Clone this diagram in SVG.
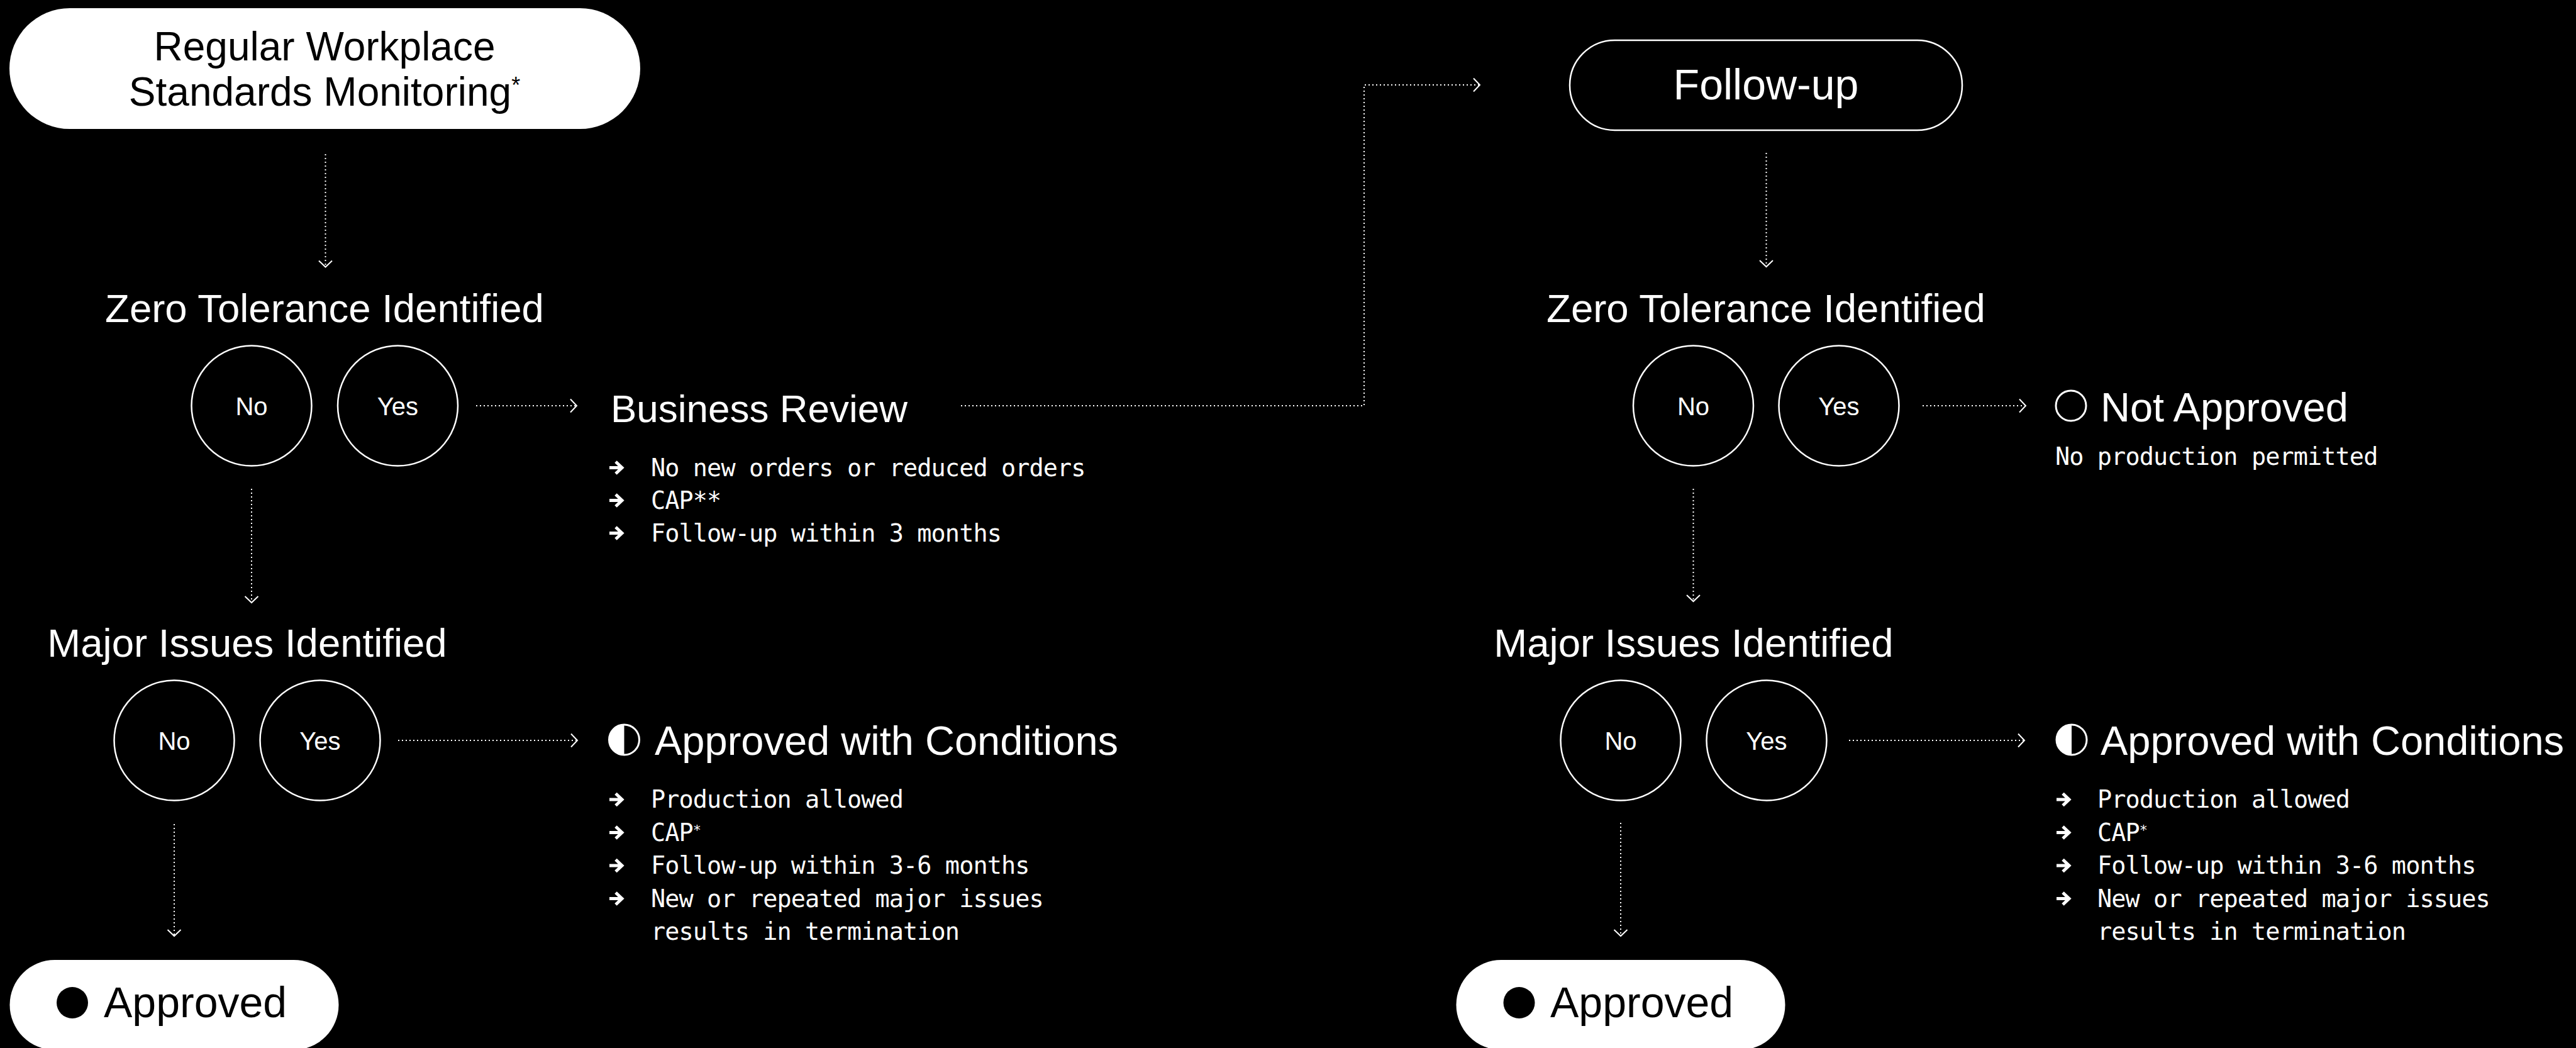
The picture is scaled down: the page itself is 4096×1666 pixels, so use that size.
<svg xmlns="http://www.w3.org/2000/svg" xmlns:xlink="http://www.w3.org/1999/xlink" width="4096" height="1666" viewBox="0 0 4096 1666">
<style>
.h{font-family:"Liberation Sans",Arial,Helvetica,sans-serif;fill:#fff}
.hb{font-family:"Liberation Sans",Arial,Helvetica,sans-serif;fill:#000}
.m{font-family:"DejaVu Sans Mono","Liberation Mono",monospace;font-size:38.5px;letter-spacing:-0.9px;fill:#fff}
.lbl{font-family:"Liberation Sans",Arial,Helvetica,sans-serif;font-size:40px;fill:#fff;text-anchor:middle}
.c{text-anchor:middle}
.ring{fill:none;stroke:#fff;stroke-width:2.5}
.conn{fill:none;stroke:#fff;stroke-width:2;stroke-dasharray:2 4;marker-end:url(#chev)}
</style>
<defs>
<marker id="chev" markerUnits="userSpaceOnUse" markerWidth="24" markerHeight="24" refX="0" refY="0" orient="auto" overflow="visible">
<path d="M-10,-10.5 L0,0 L-10,10.5" fill="none" stroke="#fff" stroke-width="2"/>
</marker>
<path id="bul" d="M1,0 H20 M11,-9.5 L21,0 L11,9.5" fill="none" stroke="#fff" stroke-width="5"/>
</defs>
<rect width="4096" height="1666" fill="#000"/>

<g id="connectors">
<path class="conn" d="M517.5,245 V424.5"/>
<path class="conn" d="M400,777 V958"/>
<path class="conn" d="M757,645 H917"/>
<path class="conn" d="M1528,645 H2169 V135 H2353"/>
<path class="conn" d="M277,1310 V1488"/>
<path class="conn" d="M633,1177 H918"/>
<path class="conn" d="M2808.5,243 V424"/>
<path class="conn" d="M2692.5,777 V956"/>
<path class="conn" d="M3057,645 H3221"/>
<path class="conn" d="M2577,1308 V1488"/>
<path class="conn" d="M2940,1177 H3219"/>
</g>

<g id="start">
<rect x="15" y="13" width="1003" height="192" rx="96" fill="#fff"/>
<text class="hb c" x="516" y="96" font-size="64">Regular Workplace</text>
<text class="hb c" x="516" y="168" font-size="64">Standards Monitoring<tspan font-size="36" dy="-20">*</tspan></text>
</g>

<g id="zt-left">
<text class="h c" x="516" y="512" font-size="63.5">Zero Tolerance Identified</text>
</g>
<g id="zt-left-no">
<circle class="ring" cx="400" cy="645" r="95.5"/>
<text class="lbl" x="400" y="659.5">No</text>
</g>
<g id="zt-left-yes">
<circle class="ring" cx="632.5" cy="645" r="95.5"/>
<text class="lbl" x="632.5" y="659.5">Yes</text>
</g>

<g id="business-review">
<text class="h" x="971" y="671" font-size="62">Business Review</text>
<use href="#bul" x="968" y="743.5"/>
<text class="m" x="1035" y="756.5">No new orders or reduced orders</text>
<use href="#bul" x="968" y="795.5"/>
<text class="m" x="1035" y="808.5">CAP**</text>
<use href="#bul" x="968" y="847.5"/>
<text class="m" x="1035" y="860.5">Follow-up within 3 months</text>
</g>

<g id="mi-left">
<text class="h c" x="393" y="1044" font-size="63.5">Major Issues Identified</text>
</g>
<g id="mi-left-no">
<circle class="ring" cx="277" cy="1177" r="95.5"/>
<text class="lbl" x="277" y="1191.5">No</text>
</g>
<g id="mi-left-yes">
<circle class="ring" cx="509" cy="1177" r="95.5"/>
<text class="lbl" x="509" y="1191.5">Yes</text>
</g>

<g id="cond-left">
<circle cx="992.5" cy="1176" r="24" fill="none" stroke="#fff" stroke-width="3"/>
<path d="M992.5,1152 A24,24 0 0 0 992.5,1200 Z" fill="#fff"/>
<text class="h" x="1041" y="1200" font-size="65">Approved with Conditions</text>
<use href="#bul" x="968" y="1271"/>
<text class="m" x="1035" y="1284">Production allowed</text>
<use href="#bul" x="968" y="1323.5"/>
<text class="m" x="1035" y="1336.5">CAP<tspan font-size="22" dy="-10">*</tspan></text>
<use href="#bul" x="968" y="1376"/>
<text class="m" x="1035" y="1389">Follow-up within 3-6 months</text>
<use href="#bul" x="968" y="1428.5"/>
<text class="m" x="1035" y="1441.5">New or repeated major issues</text>
<text class="m" x="1035" y="1494">results in termination</text>
</g>

<g id="approved-left">
<rect x="15.5" y="1526" width="523" height="143" rx="71.5" fill="#fff"/>
<circle cx="115" cy="1594" r="25" fill="#000"/>
<text class="hb" x="165" y="1617" font-size="68">Approved</text>
</g>

<g id="follow-up">
<rect x="2496" y="64" width="624" height="143" rx="71.5" fill="#000" stroke="#fff" stroke-width="2.5"/>
<text class="h c" x="2808" y="158" font-size="68">Follow-up</text>
</g>

<g id="zt-right">
<text class="h c" x="2808" y="512" font-size="63.5">Zero Tolerance Identified</text>
</g>
<g id="zt-right-no">
<circle class="ring" cx="2692.5" cy="645" r="95.5"/>
<text class="lbl" x="2692.5" y="659.5">No</text>
</g>
<g id="zt-right-yes">
<circle class="ring" cx="2924" cy="645" r="95.5"/>
<text class="lbl" x="2924" y="659.5">Yes</text>
</g>

<g id="not-approved">
<circle cx="3293" cy="645" r="24" fill="none" stroke="#fff" stroke-width="3"/>
<text class="h" x="3340" y="670" font-size="65">Not Approved</text>
<text class="m" x="3268" y="739">No production permitted</text>
</g>

<g id="mi-right">
<text class="h c" x="2693" y="1044" font-size="63.5">Major Issues Identified</text>
</g>
<g id="mi-right-no">
<circle class="ring" cx="2577" cy="1177" r="95.5"/>
<text class="lbl" x="2577" y="1191.5">No</text>
</g>
<g id="mi-right-yes">
<circle class="ring" cx="2809" cy="1177" r="95.5"/>
<text class="lbl" x="2809" y="1191.5">Yes</text>
</g>

<g id="cond-right">
<circle cx="3294" cy="1176" r="24" fill="none" stroke="#fff" stroke-width="3"/>
<path d="M3294,1152 A24,24 0 0 0 3294,1200 Z" fill="#fff"/>
<text class="h" x="3340" y="1200" font-size="65">Approved with Conditions</text>
<use href="#bul" x="3269" y="1271"/>
<text class="m" x="3335" y="1284">Production allowed</text>
<use href="#bul" x="3269" y="1323.5"/>
<text class="m" x="3335" y="1336.5">CAP<tspan font-size="22" dy="-10">*</tspan></text>
<use href="#bul" x="3269" y="1376"/>
<text class="m" x="3335" y="1389">Follow-up within 3-6 months</text>
<use href="#bul" x="3269" y="1428.5"/>
<text class="m" x="3335" y="1441.5">New or repeated major issues</text>
<text class="m" x="3335" y="1494">results in termination</text>
</g>

<g id="approved-right">
<rect x="2315.5" y="1526" width="523" height="143" rx="71.5" fill="#fff"/>
<circle cx="2415.5" cy="1594" r="25" fill="#000"/>
<text class="hb" x="2465" y="1617" font-size="68">Approved</text>
</g>
</svg>
